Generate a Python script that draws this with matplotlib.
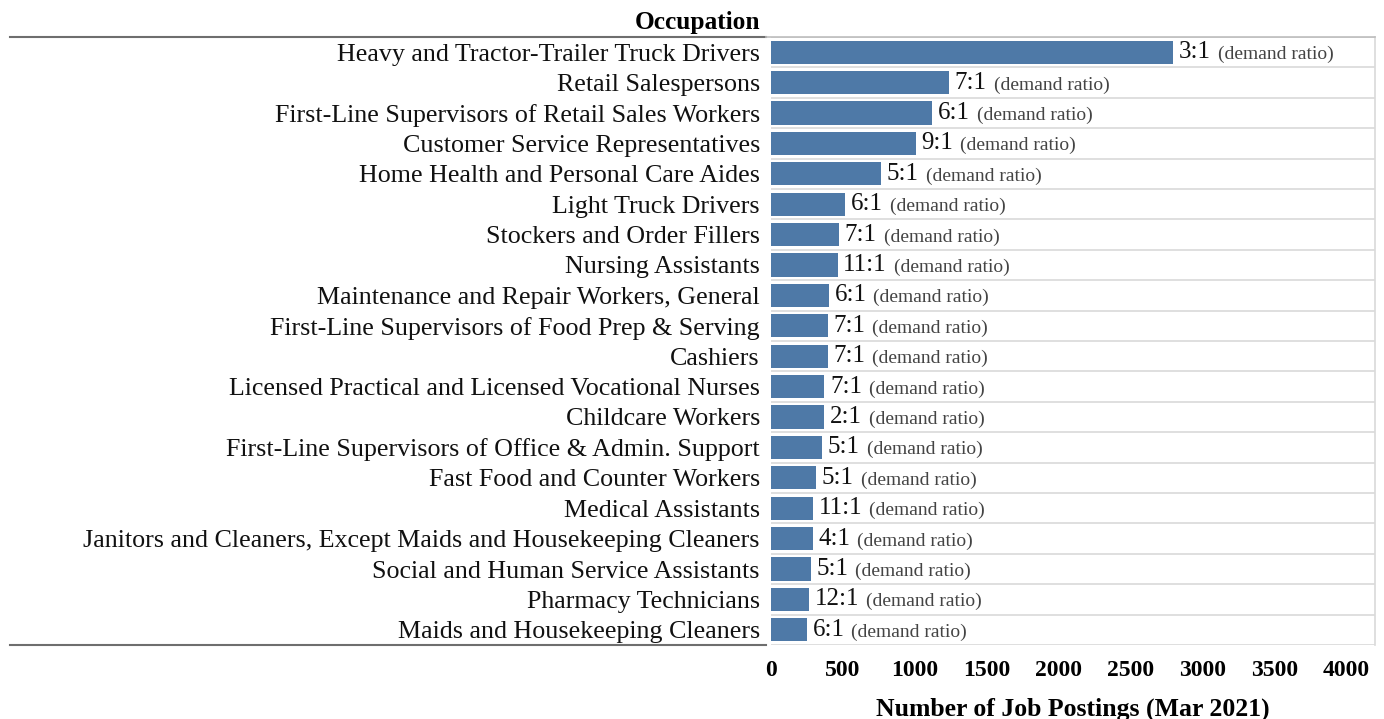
import matplotlib
matplotlib.use("Agg")
import matplotlib.pyplot as plt
import numpy as np

# Data: top occupations by job postings, March 2021
occupations = [
    "Heavy and Tractor-Trailer Truck Drivers",
    "Retail Salespersons",
    "First-Line Supervisors of Retail Sales Workers",
    "Customer Service Representatives",
    "Home Health and Personal Care Aides",
    "Light Truck Drivers",
    "Stockers and Order Fillers",
    "Nursing Assistants",
    "Maintenance and Repair Workers, General",
    "First-Line Supervisors of Food Prep & Serving",
    "Cashiers",
    "Licensed Practical and Licensed Vocational Nurses",
    "Childcare Workers",
    "First-Line Supervisors of Office & Admin. Support",
    "Fast Food and Counter Workers",
    "Medical Assistants",
    "Janitors and Cleaners, Except Maids and Housekeeping Cleaners",
    "Social and Human Service Assistants",
    "Pharmacy Technicians",
    "Maids and Housekeeping Cleaners",
]
postings = [2796, 1238, 1120, 1008, 765, 515, 473, 464, 403, 396,
            396, 371, 369, 355, 313, 292, 292, 278, 264, 250]
ratios = ["3:1", "7:1", "6:1", "9:1", "5:1", "6:1", "7:1", "11:1", "6:1", "7:1",
          "7:1", "7:1", "2:1", "5:1", "5:1", "11:1", "4:1", "5:1", "12:1", "6:1"]
x_ticks = [0, 500, 1000, 1500, 2000, 2500, 3000, 3500, 4000]

plt.rcParams['font.family'] = ['Liberation Serif', 'DejaVu Serif']

fig = plt.figure(figsize=(13.84, 7.19), dpi=100)
ax = fig.add_axes([771 / 1384, 1 - 645 / 719, 604 / 1384, 608 / 719])

y = np.arange(len(occupations))
ax.barh(y, postings, height=0.76, color='#4e79a7', zorder=3)

ax.set_ylim(len(occupations) - 0.5, -0.5)
ax.set_xlim(0, 4200)

# row separators
ax.set_yticks(np.arange(len(occupations) + 1) - 0.5, minor=True)
ax.grid(True, which='minor', axis='y', color='#d9d9d9', linewidth=1.2, zorder=0)
ax.tick_params(axis='y', which='minor', length=0)

ax.set_yticks(y, occupations, fontsize=18.7, color='#111111')
ax.tick_params(axis='y', which='major', length=0, pad=8)
ax.set_xticks(x_ticks, [str(t) for t in x_ticks], fontsize=17, fontweight='bold')
ax.tick_params(axis='x', length=0, pad=11)

for s in ['left', 'bottom', 'top']:
    ax.spines[s].set_visible(False)
ax.spines['right'].set_color('#d9d9d9')
ax.spines['right'].set_linewidth(1.2)

# labels at bar ends
for i, (v, r) in enumerate(zip(postings, ratios)):
    t1 = ax.annotate(r, xy=(v, i), xytext=(4, 0), textcoords='offset points',
                     va='center', ha='left', fontsize=18, color='#111111')
    ax.annotate("(demand ratio)", xy=(1, 0), xycoords=t1, xytext=(5, 0),
                textcoords='offset points', va='bottom', ha='left',
                fontsize=14, color='#444444')

ax.set_xlabel("Number of Job Postings (Mar 2021)", fontsize=18.5, fontweight='bold',
              labelpad=12)

fig.text(760 / 1384, 1 - 22 / 719, "Occupation", ha='right', va='center',
         fontsize=18.3, fontweight='bold')

# header and footer rules
fig.add_artist(plt.Line2D([10 / 1384, 766 / 1384], [1 - 37 / 719] * 2,
                          color='#6e6e6e', linewidth=1.5))
fig.add_artist(plt.Line2D([766 / 1384, 1375 / 1384], [1 - 37 / 719] * 2,
                          color='#bdbdbd', linewidth=1.2))
fig.add_artist(plt.Line2D([10 / 1384, 766 / 1384], [1 - 645 / 719] * 2,
                          color='#6e6e6e', linewidth=1.5))

fig.savefig("out.png", dpi=100)
